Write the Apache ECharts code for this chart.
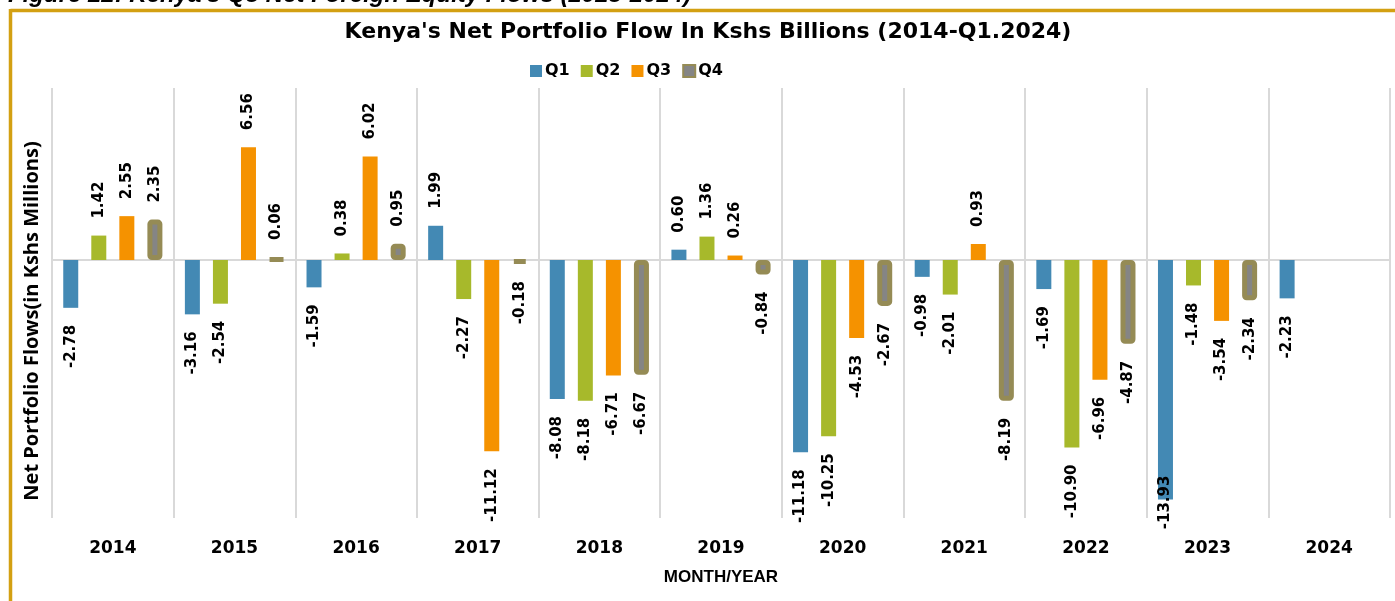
<!DOCTYPE html>
<html>
<head>
<meta charset="utf-8">
<title>Kenya's Net Portfolio Flow</title>
<script src="https://cdn.jsdelivr.net/npm/echarts@6/dist/echarts.min.js"></script>
<style>
  html, body { margin: 0; padding: 0; background: #fff; }
  #chart { width: 1395px; height: 601px; }
</style>
</head>
<body>
<div id="chart"></div>
<script>
const years = ['2014', '2015', '2016', '2017', '2018', '2019', '2020', '2021', '2022', '2023', '2024'];
const q1 = [-2.78, -3.16, -1.59, 1.99, -8.08, 0.60, -11.18, -0.98, -1.69, -13.93, -2.23];
const q2 = [1.42, -2.54, 0.38, -2.27, -8.18, 1.36, -10.25, -2.01, -10.90, -1.48, null];
const q3 = [2.55, 6.56, 6.02, -11.12, -6.71, 0.26, -4.53, 0.93, -6.96, -3.54, null];
const q4 = [2.35, 0.06, 0.95, -0.18, -6.67, -0.84, -2.67, -8.19, -4.87, -2.34, null];

const gold = '#D3A012';

// labels sit past the end of each bar, reading bottom to top
function withLabels (values) {
  return values.map(v => {
    if (v == null) return null;
    let label = v < 0
      ? { position: 'bottom', align: 'right' }
      : { position: 'top', align: 'left' };
    // the deepest bar keeps its label inside the plot, like the original
    if (v < -13) label.distance = -24;
    return { value: v, label: label };
  });
}

function barSeries (name, values, color, extra) {
  return Object.assign({
    name: name,
    type: 'bar',
    barWidth: 15,
    barGap: '87%',
    data: withLabels(values),
    itemStyle: { color: color },
    label: {
      show: true,
      rotate: 90,
      distance: 17,
      verticalAlign: 'middle',
      color: '#000',
      fontFamily: 'DejaVu Sans',
      fontWeight: 'bold',
      fontSize: 15,
      formatter: p => p.value.toFixed(2)
    }
  }, extra || {});
}

let chart = echarts.init(document.getElementById('chart'));
let option = {
  backgroundColor: '#fff',
  animation: false,
  title: {
    text: "Kenya's Net Portfolio Flow In Kshs Billions (2014-Q1.2024)",
    left: 708,
    textAlign: 'center',
    top: 21,
    padding: 0,
    textStyle: {
      fontFamily: 'DejaVu Sans',
      fontWeight: 'bold',
      fontSize: 22,
      color: '#000'
    }
  },
  legend: {
    data: ['Q1', 'Q2', 'Q3', 'Q4'],
    left: 525,
    top: 58,
    icon: 'rect',
    itemWidth: 12,
    itemHeight: 12,
    itemGap: 11,
    textStyle: {
      fontFamily: 'DejaVu Sans',
      fontWeight: 600,
      fontSize: 16,
      color: '#000',
      padding: [0, 0, 0, -2]
    }
  },
  grid: {
    left: 52,
    right: 5,
    top: 88,
    bottom: 83
  },
  xAxis: {
    type: 'category',
    data: years,
    name: 'MONTH/YEAR',
    nameLocation: 'middle',
    nameGap: 51,
    nameTextStyle: {
      fontFamily: 'Liberation Sans',
      fontWeight: 'bold',
      fontSize: 17,
      color: '#000'
    },
    axisLine: { show: false },
    axisTick: { show: false },
    axisLabel: {
      margin: 22,
      color: '#000',
      fontFamily: 'DejaVu Sans',
      fontWeight: 'bold',
      fontSize: 17
    },
    splitLine: {
      show: true,
      lineStyle: { color: '#d9d9d9', width: 2 }
    }
  },
  yAxis: {
    type: 'value',
    min: -15,
    max: 10,
    interval: 5,
    axisLine: { show: false },
    axisTick: { show: false },
    axisLabel: { show: false },
    splitLine: { show: false }
  },
  series: [
    barSeries('Q1', q1, '#4389B4', {
      markLine: {
        silent: true,
        symbol: 'none',
        z: 1,
        label: { show: false },
        lineStyle: { color: '#d9d9d9', width: 2, type: 'solid' },
        data: [{ yAxis: 0 }]
      }
    }),
    barSeries('Q2', q2, '#A7B92B'),
    barSeries('Q3', q3, '#F59200'),
    barSeries('Q4', q4, '#858585', {
      itemStyle: {
        color: '#858585',
        borderColor: '#958B55',
        borderWidth: 5,
        borderRadius: 2
      }
    })
  ],
  graphic: [
    {
      type: 'text',
      x: 8,
      y: -5,
      style: {
        text: "Figure 22: Kenya's Q3 Net Foreign Equity Flows (2023-2024)",
        font: 'italic bold 24px "Liberation Sans"',
        fill: '#000',
        verticalAlign: 'middle'
      }
    },
    {
      type: 'line',
      shape: { x1: 10.5, y1: 10.5, x2: 1395, y2: 10.5 },
      style: { stroke: gold, lineWidth: 3.5 }
    },
    {
      type: 'line',
      shape: { x1: 10.5, y1: 9, x2: 10.5, y2: 601 },
      style: { stroke: gold, lineWidth: 3.5 }
    },
    {
      type: 'text',
      x: 32,
      y: 321,
      rotation: Math.PI / 2,
      style: {
        text: 'Net Portfolio Flows(in Kshs Millions)',
        font: 'bold 20px "Open Sans"',
        fill: '#000',
        align: 'center',
        verticalAlign: 'middle'
      }
    }
  ]
};
chart.setOption(option);
window.addEventListener('resize', () => chart.resize());
</script>
</body>
</html>
